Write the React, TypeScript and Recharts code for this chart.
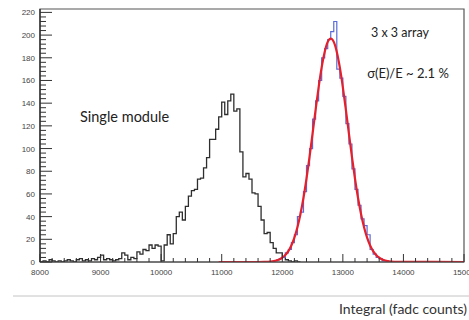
import React from 'react';
import { ComposedChart, Line, XAxis, YAxis, ReferenceArea } from 'recharts';

// Histogram binning (fadc integral units)
const binWidth = 50;

// Single module spectrum, bins of 50 starting at 8000
const singleStart = 8000;
const singleCounts = [
  0, 1, 0, 2, 1, 0, 1, 0, 1, 2,
  1, 0, 2, 3, 1, 2, 1, 3, 2, 4,
  6, 2, 3, 2, 1, 2, 3, 8, 6, 2,
  4, 3, 9, 7, 11, 10, 15, 12, 15, 14,
  1, 15, 24, 16, 25, 40, 44, 37, 49, 58,
  63, 64, 73, 74, 83, 92, 108, 108, 117, 128,
  141, 130, 142, 148, 133, 135, 97, 75, 78, 73,
  61, 60, 49, 37, 25, 26, 17, 12, 8, 8,
  4, 2, 1, 0, 1, 0,
];

// 3 x 3 array sum spectrum, bins of 50 starting at 11900
const arrayStart = 11900;
const arrayCounts = [
  2, 3, 4, 8, 11, 17, 24, 40, 44, 62,
  85, 100, 126, 142, 160, 180, 188, 196, 203, 212,
  170, 162, 146, 122, 104, 82, 64, 50, 38, 32,
  24, 11, 7, 4, 3, 1, 1, 0,
];

// Gaussian fit to the array spectrum
const fitX = [
  10950, 11600, 11700, 11800, 11900, 11950, 12000, 12050, 12100, 12150,
  12200, 12250, 12300, 12350, 12400, 12450, 12500, 12550, 12600, 12650,
  12700, 12750, 12800, 12850, 12900, 12950, 13000, 13050, 13100, 13150,
  13200, 13250, 13300, 13350, 13400, 13450, 13500, 13550, 13600, 13650,
  13700, 13800, 13900, 15000,
];
const fitY = [
  0, 0, 0.1, 0.4, 1.3, 2.3, 3.8, 6.2, 9.6, 14.6,
  21.5, 30.6, 42.3, 56.6, 73.6, 92.7, 113.2, 134.1, 154.0, 171.5,
  185.2, 194.0, 197, 194.0, 185.2, 171.5, 154.0, 134.1, 113.2, 92.7,
  73.6, 56.6, 42.3, 30.6, 21.5, 14.6, 9.6, 6.2, 3.8, 2.3,
  1.3, 0.4, 0.1, 0,
];

const xMajorTicks = [8000, 9000, 10000, 11000, 12000, 13000, 14000, 15000];
const yMajorTicks = [0, 20, 40, 60, 80, 100, 120, 140, 160, 180, 200, 220];
const xDomain: [number, number] = [8000, 15000];
const yDomain: [number, number] = [0, 223];

// tick positions including the secondary divisions
const xMinorStep = 200;
const yMinorStep = 4;
const xTicks: number[] = [];
for (let v = xDomain[0]; v <= xDomain[1]; v += xMinorStep) xTicks.push(v);
const yTicks: number[] = [];
for (let v = yDomain[0]; v <= 220; v += yMinorStep) yTicks.push(v);

const toSteps = (start: number, counts: number[]) => {
  const pts = counts.map((c, i) => ({ x: start + i * binWidth, y: c }));
  pts.push({ x: start + counts.length * binWidth, y: 0 });
  return pts;
};

const singleData = toSteps(singleStart, singleCounts);
const arrayData = toSteps(arrayStart, arrayCounts);
const fitData = fitX.map((x, i) => ({ x, y: fitY[i] }));

const TICK_MARGIN = 4;
const tickFont = '"Liberation Sans", Arial, sans-serif';
const labelFont = 'Lato, "Open Sans", sans-serif';

const YTick = (props: any) => {
  const { x, y, payload } = props;
  const v = payload.value as number;
  const axisX = x + TICK_MARGIN;
  const major = yMajorTicks.includes(v);
  return (
    <g>
      <line x1={axisX} x2={axisX + (major ? 12 : 6)} y1={y} y2={y} stroke="#333" strokeWidth={1} />
      {major && (
        <text x={axisX - 5} y={y} dy={3} textAnchor="end" fontSize={8} fontFamily={tickFont} fill="#444">
          {v}
        </text>
      )}
    </g>
  );
};

const XTick = (props: any) => {
  const { x, y, payload } = props;
  const v = payload.value as number;
  const axisY = y - TICK_MARGIN;
  const major = xMajorTicks.includes(v);
  return (
    <g>
      <line x1={x} x2={x} y1={axisY} y2={axisY - (major ? 8 : 4)} stroke="#333" strokeWidth={1} />
      {major && (
        <text x={x} y={axisY + 13} textAnchor="middle" fontSize={8} fontFamily={tickFont} fill="#444">
          {v}
        </text>
      )}
    </g>
  );
};

export default function App() {
  return (
    <div style={{ position: 'absolute', left: 0, top: 0, width: 469, height: 320, background: '#fff' }}>
      <ComposedChart
        width={469}
        height={320}
        margin={{ top: 9, right: 5, bottom: 38, left: 10 }}
      >
        <XAxis
          dataKey="x"
          type="number"
          domain={xDomain}
          ticks={xTicks}
          interval={0}
          tickSize={0}
          tickMargin={TICK_MARGIN}
          tick={<XTick />}
          height={20}
          axisLine={{ stroke: '#444', strokeWidth: 1 }}
          allowDataOverflow
        />
        <YAxis
          type="number"
          domain={yDomain}
          ticks={yTicks}
          interval={0}
          tickSize={0}
          tickMargin={TICK_MARGIN}
          tick={<YTick />}
          width={30}
          axisLine={{ stroke: '#222', strokeWidth: 1.2 }}
          allowDataOverflow
        />
        <ReferenceArea
          x1={xDomain[0]}
          x2={xDomain[1]}
          y1={yDomain[0]}
          y2={yDomain[1]}
          fill="none"
          stroke="#555"
          strokeWidth={1.2}
        />
        <Line
          data={singleData}
          dataKey="y"
          type="stepAfter"
          stroke="#2e2e2e"
          strokeWidth={1.3}
          dot={false}
          isAnimationActive={false}
        />
        <Line
          data={arrayData}
          dataKey="y"
          type="stepAfter"
          stroke="#5a6ad8"
          strokeWidth={1.2}
          dot={false}
          isAnimationActive={false}
        />
        <Line
          data={fitData}
          dataKey="y"
          type="monotone"
          stroke="#e4202c"
          strokeWidth={2.2}
          dot={false}
          isAnimationActive={false}
        />
        <text x={80} y={122} fontSize={14.5} fontFamily={labelFont} fill="#222">
          Single module
        </text>
        <text x={400} y={37} fontSize={12.5} fontFamily={labelFont} fill="#222" textAnchor="middle">
          3 x 3 array
        </text>
        <text x={408} y={78} fontSize={13} fontFamily={labelFont} fill="#222" textAnchor="middle">
          σ(E)/E ~ 2.1 %
        </text>
        <line x1={13} x2={469} y1={296} y2={296} stroke="#c4c4c4" strokeWidth={1} />
        <text x={467} y={314} fontSize={14} fontFamily={labelFont} fill="#333" textAnchor="end">
          Integral (fadc counts)
        </text>
      </ComposedChart>
    </div>
  );
}
